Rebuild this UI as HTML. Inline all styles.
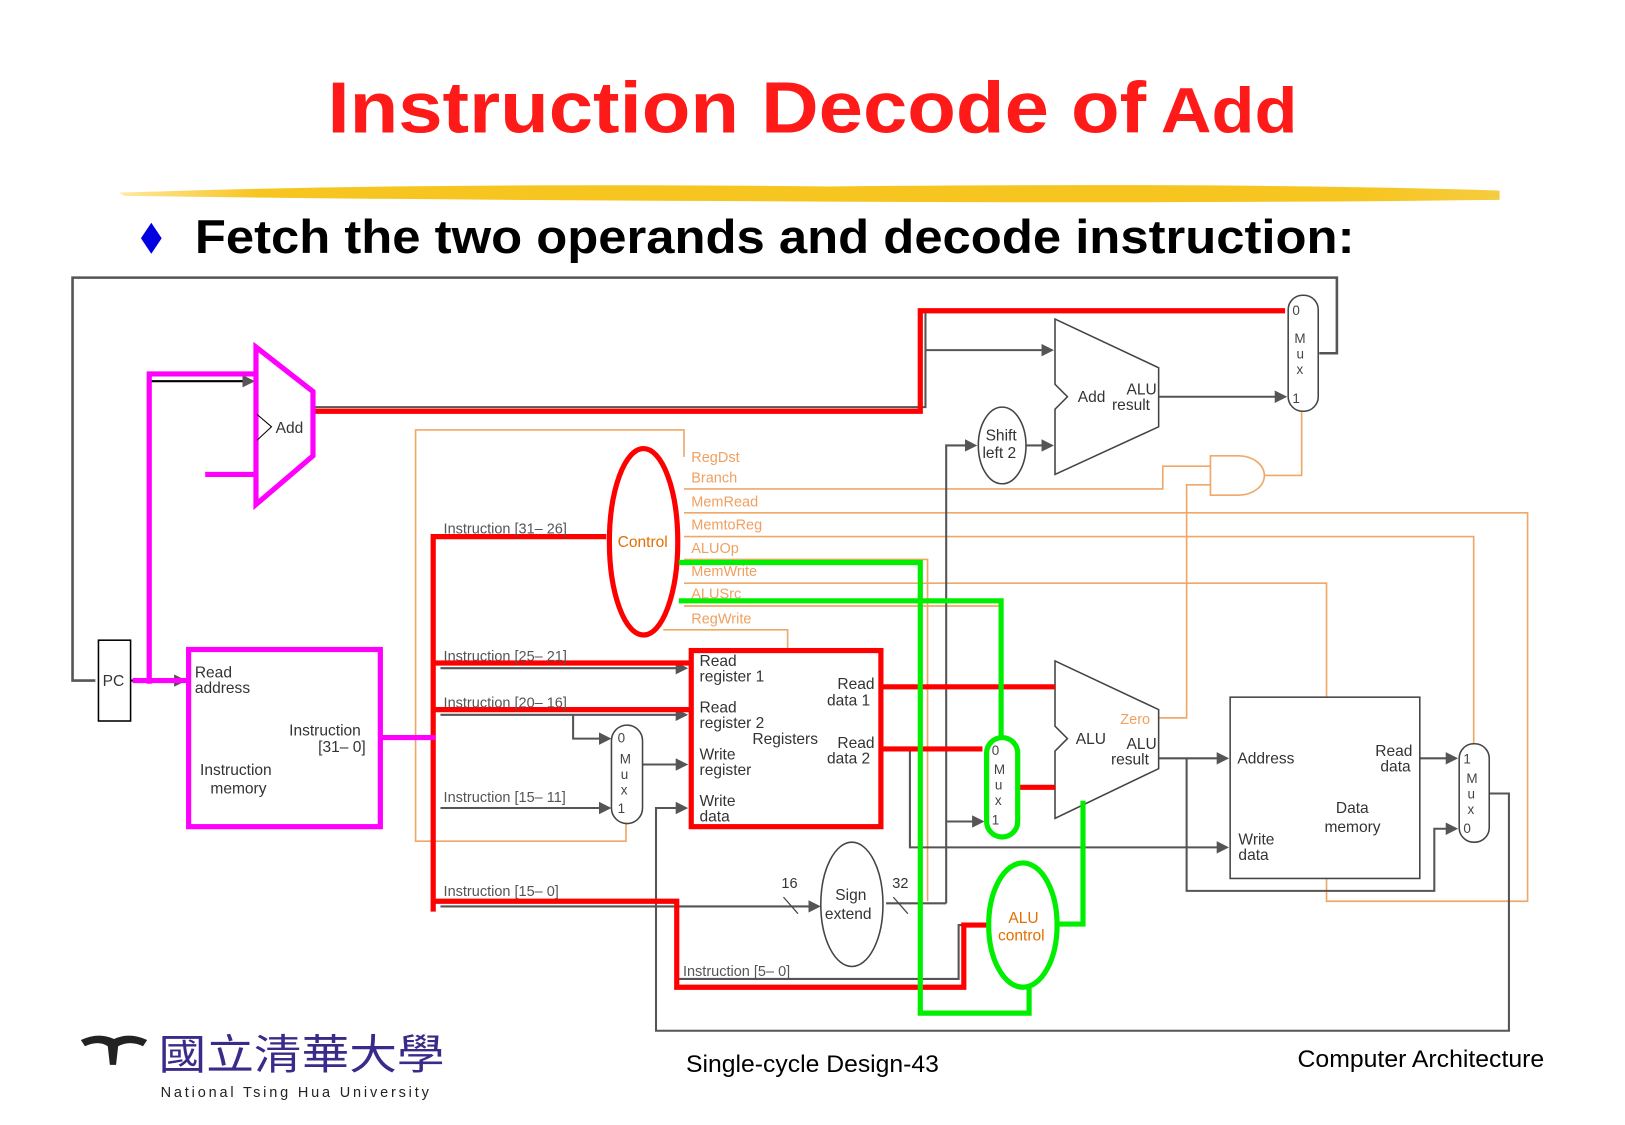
<!DOCTYPE html>
<html><head><meta charset="utf-8"><style>
html,body{margin:0;padding:0;background:#fff;}
svg{display:block;}
text{font-family:"Liberation Sans",sans-serif;}
</style></head><body>
<svg width="1625" height="1125" viewBox="0 0 1568 1086" preserveAspectRatio="none" xmlns="http://www.w3.org/2000/svg">
<defs>
<marker id="ar" markerWidth="6" markerHeight="6" refX="5" refY="3" orient="auto"><path d="M0,0 L6,3 L0,6 z" fill="#555"/></marker>
<linearGradient id="yb" x1="0" x2="1"><stop offset="0" stop-color="#ffe9a0"/><stop offset="0.1" stop-color="#f7c520"/><stop offset="0.9" stop-color="#f7c520"/><stop offset="1" stop-color="#f5cc40"/></linearGradient>
</defs>
<text x="316" y="128" font-size="70" font-weight="bold" fill="#ff1a1a" textLength="790" lengthAdjust="spacingAndGlyphs">Instruction Decode of</text>
<text x="1120" y="128" font-size="62" font-weight="bold" fill="#ff1a1a" font-family="Liberation Mono" textLength="132" lengthAdjust="spacingAndGlyphs">Add</text>
<path d="M115,186 Q400,176 800,180 Q1200,176 1447,184 L1447,193 Q1100,197 700,194 Q400,193 120,189 z" fill="url(#yb)"/>
<path d="M146,215 L156,230 L146,245 L136,230 z" fill="#0000e0"/>
<text x="188" y="244" font-size="46" font-weight="bold" fill="#000" textLength="1119" lengthAdjust="spacingAndGlyphs">Fetch the two operands and decode instruction:</text>

<g fill="none" stroke-linejoin="miter">
<path d="M92,657 L70,657 L70,268 L1290,268 L1290,341 L1273,341" stroke="#555" stroke-width="2.5"/>
<g stroke="#f0a868" stroke-width="1.6">
<path d="M604,795 L604,812 L401,812 L401,415 L660,415 L660,441"/>
<path d="M660,472 L1122,472 L1122,450 L1168,450"/>
<path d="M660,495 L1474,495 L1474,870 L1280,870 L1280,848"/>
<path d="M660,518 L1422,518 L1422,718"/>
<path d="M660,540 L895,540 L895,870"/>
<path d="M660,563 L1280,563 L1280,673"/>
<path d="M660,585 L966,585"/>
<path d="M1118,693 L1145,693 L1145,468 L1168,468"/>
<path d="M640,608 L760,608 L760,628"/>
<path d="M1220,459 L1256,459 L1256,397"/>
<path d="M1168,440 L1195,440 A25,19 0 0 1 1195,478 L1168,478 z"/>
</g>
<g stroke="#555" stroke-width="2">
<path d="M893,338 L1015,338" marker-end="url(#ar)"/>
<path d="M1118,383 L1240,383" marker-end="url(#ar)"/>
<path d="M990,430 L1015,430" marker-end="url(#ar)"/>
<path d="M913,872 L913,430 L941,430" marker-end="url(#ar)"/>
<path d="M913,793 L948,793" marker-end="url(#ar)"/>
<path d="M855,872 L913,872"/>
<path d="M425,645 L662,645" marker-end="url(#ar)"/>
<path d="M425,690 L662,690" marker-end="url(#ar)"/>
<path d="M553,690 L553,713 L588,713" marker-end="url(#ar)"/>
<path d="M425,780 L588,780" marker-end="url(#ar)"/>
<path d="M620,738 L662,738" marker-end="url(#ar)"/>
<path d="M425,875 L790,875" marker-end="url(#ar)"/>
<path d="M653,875 L653,945 L925,945 L925,893 L950,893"/>
<path d="M878,723 L878,818 L1184,818" marker-end="url(#ar)"/>
<path d="M1118,732 L1184,732" marker-end="url(#ar)"/>
<path d="M1145,732 L1145,860 L1384,860 L1384,800 L1405,800" marker-end="url(#ar)"/>
<path d="M1370,732 L1405,732" marker-end="url(#ar)"/>
<path d="M1437,766 L1456,766 L1456,995 L633,995 L633,780 L662,780" marker-end="url(#ar)"/>
<path d="M1018,663 L850,663"/>
<path d="M302,393 L893,393 L893,300"/>
</g>
<path d="M144,368 L244,368" stroke="#000" stroke-width="2" marker-end="url(#ar)"/>
<path d="M126,657 L178,657" stroke="#000" stroke-width="2" marker-end="url(#ar)"/>
<rect x="95" y="618" width="31" height="78" stroke="#000" stroke-width="1.5"/>
<path d="M1018,308 L1118,355 L1118,412 L1018,458 L1018,395 L1030,383 L1018,371 z" stroke="#444" stroke-width="1.5"/>
<path d="M1018,638 L1118,685 L1118,742 L1018,790 L1018,725 L1030,713 L1018,701 z" stroke="#444" stroke-width="1.5"/>
<rect x="1243" y="285" width="29" height="112" rx="14" stroke="#444" stroke-width="1.5"/>
<rect x="590" y="700" width="30" height="95" rx="15" stroke="#444" stroke-width="1.5"/>
<rect x="1408" y="718" width="29" height="95" rx="14" stroke="#444" stroke-width="1.5"/>
<ellipse cx="967" cy="430" rx="23" ry="37" stroke="#444" stroke-width="1.5"/>
<ellipse cx="822" cy="873" rx="30" ry="60" stroke="#444" stroke-width="1.5"/>
<rect x="1187" y="673" width="183" height="175" stroke="#444" stroke-width="1.5"/>
<path d="M756,866 L770,882 M862,866 L876,882" stroke="#444" stroke-width="1.2"/>
<g stroke="#ff0000" stroke-width="5">
<path d="M302,397 L888,397 L888,300 L1240,300"/>
<path d="M585,518 L418,518 L418,880"/>
<path d="M418,640 L665,640"/>
<path d="M418,685 L665,685"/>
<path d="M418,870 L653,870 L653,953 L930,953 L930,893 L952,893"/>
<path d="M850,663 L1018,663"/>
<path d="M850,723 L948,723"/>
<path d="M982,760 L1018,760"/>
<rect x="667" y="628" width="183" height="170"/>
<ellipse cx="621" cy="523" rx="33" ry="90"/>
</g>
<g stroke="#ff00ff" stroke-width="5">
<path d="M247,335 L302,378 L302,440 L247,487 z"/>
<path d="M144,660 L144,361 L247,361"/>
<path d="M198,458 L247,458"/>
<path d="M128,657 L182,657"/>
<rect x="182" y="627" width="185" height="171"/>
<path d="M367,712 L420,712"/>
</g>
<path d="M248,400 L262,412 L248,425" stroke="#000" stroke-width="1"/>
<g stroke="#00ee00" stroke-width="5">
<path d="M655,543 L888,543 L888,978 L993,978 L993,950"/>
<path d="M655,580 L966,580 L966,712"/>
<rect x="952" y="712" width="30" height="96" rx="15"/>
<ellipse cx="987" cy="893" rx="33" ry="60"/>
<path d="M1045,773 L1045,892 L1020,892"/>
</g>
</g>

<g font-size="15" fill="#333">
<text x="99" y="662">PC</text>
<text x="266" y="418">Add</text>
<text x="188" y="654">Read</text><text x="188" y="669">address</text>
<text x="279" y="710">Instruction</text><text x="307" y="726">[31– 0]</text>
<text x="193" y="748">Instruction</text><text x="203" y="766">memory</text>
<text x="428" y="515" font-size="14" fill="#555">Instruction [31– 26]</text>
<text x="428" y="638" font-size="14" fill="#555">Instruction [25– 21]</text>
<text x="428" y="683" font-size="14" fill="#555">Instruction [20– 16]</text>
<text x="428" y="774" font-size="14" fill="#555">Instruction [15– 11]</text>
<text x="428" y="865" font-size="14" fill="#555">Instruction [15– 0]</text>
<text x="659" y="942" font-size="14" fill="#555">Instruction [5– 0]</text>
<text x="596" y="528" fill="#e07000">Control</text>
<g fill="#f0a060" font-size="14">
<text x="667" y="446">RegDst</text><text x="667" y="466">Branch</text><text x="667" y="489">MemRead</text>
<text x="667" y="511">MemtoReg</text><text x="667" y="534">ALUOp</text><text x="667" y="556">MemWrite</text>
<text x="667" y="578">ALUSrc</text><text x="667" y="602">RegWrite</text>
<text x="1081" y="699">Zero</text>
</g>
<text x="675" y="643">Read</text><text x="675" y="658">register 1</text>
<text x="675" y="688">Read</text><text x="675" y="703">register 2</text>
<text x="675" y="733">Write</text><text x="675" y="748">register</text>
<text x="675" y="778">Write</text><text x="675" y="793">data</text>
<text x="726" y="718">Registers</text>
<text x="808" y="665">Read</text><text x="798" y="681">data 1</text>
<text x="808" y="722">Read</text><text x="798" y="737">data 2</text>
<g font-size="13" fill="#444">
<text x="596" y="717">0</text><text x="598" y="737">M</text><text x="599" y="752">u</text><text x="599" y="767">x</text><text x="596" y="785">1</text>
<text x="1247" y="304">0</text><text x="1249" y="331">M</text><text x="1251" y="346">u</text><text x="1251" y="361">x</text><text x="1247" y="389">1</text>
<text x="957" y="729">0</text><text x="959" y="747">M</text><text x="960" y="762">u</text><text x="960" y="777">x</text><text x="957" y="796">1</text>
<text x="1412" y="737">1</text><text x="1415" y="756">M</text><text x="1416" y="771">u</text><text x="1416" y="786">x</text><text x="1412" y="804">0</text>
</g>
<text x="1040" y="388">Add</text><text x="1087" y="381">ALU</text><text x="1073" y="396">result</text>
<text x="1038" y="718">ALU</text><text x="1087" y="723">ALU</text><text x="1072" y="738">result</text>
<text x="951" y="425">Shift</text><text x="948" y="442">left 2</text>
<text x="806" y="869">Sign</text><text x="796" y="887">extend</text>
<text x="754" y="857" font-size="14">16</text><text x="861" y="857" font-size="14">32</text>
<text x="973" y="891" fill="#e07000">ALU</text><text x="963" y="908" fill="#e07000">control</text>
<text x="1194" y="737">Address</text>
<text x="1327" y="730">Read</text><text x="1332" y="745">data</text>
<text x="1289" y="785">Data</text><text x="1278" y="803">memory</text>
<text x="1195" y="815">Write</text><text x="1195" y="830">data</text>
</g>

<path d="M78,1004 Q95,996 110,1003 Q125,996 142,1004 L138,1010 Q125,1004 114,1010 L112,1028 L106,1028 L104,1010 Q95,1004 82,1010 z" fill="#222"/>
<text x="153" y="1032" font-size="40" fill="#3a2a8a" font-family="Noto Serif CJK SC,serif" textLength="276" lengthAdjust="spacingAndGlyphs">國立清華大學</text>
<text x="155" y="1059" font-size="14" fill="#222" letter-spacing="1.2" textLength="260" lengthAdjust="spacing">National Tsing Hua University</text>
<text x="662" y="1035" font-size="23" fill="#000" textLength="244" lengthAdjust="spacingAndGlyphs">Single-cycle Design-43</text>
<text x="1252" y="1030" font-size="23" fill="#000" textLength="238" lengthAdjust="spacingAndGlyphs">Computer Architecture</text>
</svg>
</body></html>
